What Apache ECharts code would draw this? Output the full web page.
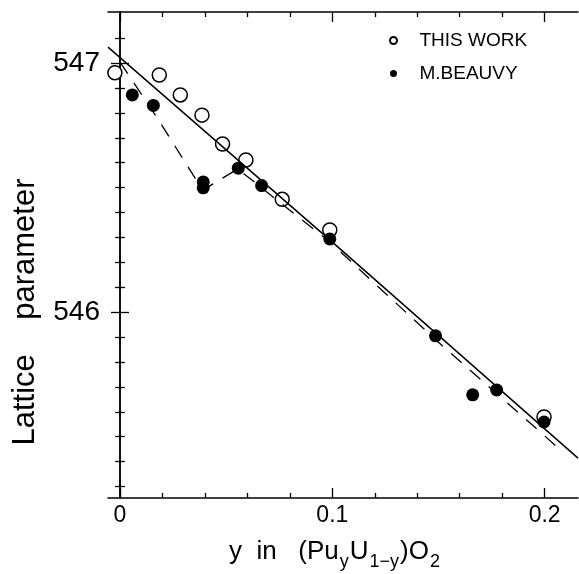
<!DOCTYPE html>
<html>
<head>
<meta charset="utf-8">
<script src="https://cdn.jsdelivr.net/npm/echarts@6/dist/echarts.min.js"></script>
<style>
  html, body { margin: 0; padding: 0; background: #fff; }
  #chart { width: 579px; height: 574px; }
</style>
</head>
<body>
<div id="chart"></div>
<script>
  // values
  const thisWorkX = [-0.0024, 0.0185, 0.0284, 0.0386, 0.0483, 0.0593, 0.0764, 0.0988, 0.1997]
  const thisWorkY = [546.961, 546.952, 546.872, 546.791, 546.675, 546.611, 546.453, 546.330, 545.579]

  const beauvyX = [0.0058, 0.0157, 0.0392, 0.0392, 0.0557, 0.0667, 0.0988, 0.1486, 0.1661, 0.1774, 0.1997]
  const beauvyY = [546.872, 546.830, 546.523, 546.499, 546.578, 546.508, 546.294, 545.905, 545.668, 545.688, 545.559]

  // solid fit line and dashed guide line
  const fitX = [-0.00565, 0.0988, 0.2157]
  const fitY = [547.064, 546.290, 545.414]
  const dashX = [0, 0.0179, 0.0353, 0.0395, 0.0438, 0.0555, 0.0988, 0.1487, 0.2052]
  const dashY = [547.004, 546.775, 546.539, 546.491, 546.515, 546.575, 546.282, 545.889, 545.464]

  // ticks and labels
  const xMinorTicks = [0.02, 0.04, 0.06, 0.08, 0.12, 0.14, 0.16, 0.18]
  const xMajorTicks = [0, 0.1, 0.2]
  const xLabels = [0, 0.1, 0.2]
  const yMinorTicks = [545.3, 545.4, 545.5, 545.6, 545.7, 545.8, 545.9, 546.1, 546.2, 546.3,
    546.4, 546.5, 546.6, 546.7, 546.8, 546.9, 547.1]
  const yMajorTicks = [546, 547]
  const yLabels = [546, 547]

  const xMin = -0.00565, xMax = 0.2157
  const yMin = 545.254, yMax = 547.205

  const ink = '#000'
  const font = 'Liberation Sans'

  const zip = (xs, ys) => xs.map((x, i) => [x, ys[i]])

  function tickAxis(opts) {
    // one axis that only carries a set of inward ticks (and maybe the line / labels)
    return Object.assign({
      type: 'value',
      splitLine: { show: false },
      axisLine: { show: false, lineStyle: { color: ink, width: 1.5 } },
      axisLabel: { show: false },
      axisTick: {
        inside: true,
        length: opts.len,
        customValues: opts.ticks,
        lineStyle: { color: ink, width: 1.3 }
      }
    }, opts.extra)
  }

  const chart = echarts.init(document.getElementById('chart'))
  chart.setOption({
    animation: false,
    backgroundColor: '#fff',
    textStyle: { fontFamily: font, color: ink },
    grid: [
      { left: 108, top: 12, width: 470, height: 486, outerBoundsMode: 'none' },
      { left: 108, top: 12, width: 470, height: 486, outerBoundsMode: 'none' }
    ],
    legend: {
      data: ['THIS WORK', 'M.BEAUVY'],
      orient: 'vertical',
      left: 384,
      top: 26,
      itemWidth: 42,
      itemHeight: 7,
      itemGap: 14,
      selectedMode: false,
      textStyle: { fontSize: 19, color: ink, fontFamily: font }
    },
    xAxis: [
      tickAxis({
        ticks: xMinorTicks, len: 5,
        extra: {
          gridIndex: 0, position: 'bottom', min: xMin, max: xMax,
          axisLine: { show: true, lineStyle: { color: ink, width: 1.5 } },
          axisLabel: {
            show: true, customValues: xLabels, fontSize: 23, margin: 6,
            color: ink, fontFamily: font
          },
          name: '{m|y  in   (Pu}{s|y}{m|U}{s|1−y}{m|)O}{s|2}',
          nameLocation: 'middle',
          nameGap: 41,
          nameMoveOverlap: false,
          nameTextStyle: {
            padding: [0, 16, 0, 0],
            rich: {
              m: { fontSize: 26, verticalAlign: 'top', fontFamily: font, color: ink },
              s: { fontSize: 18, verticalAlign: 'top', padding: [14, 1, 0, 1], fontFamily: font, color: ink }
            }
          }
        }
      }),
      tickAxis({
        ticks: xMinorTicks, len: 5,
        extra: {
          gridIndex: 0, position: 'top', min: xMin, max: xMax,
          axisLine: { show: true, lineStyle: { color: ink, width: 1.5 } }
        }
      }),
      tickAxis({ ticks: xMajorTicks, len: 10, extra: { gridIndex: 1, position: 'bottom', min: xMin, max: xMax } }),
      tickAxis({ ticks: xMajorTicks, len: 10, extra: { gridIndex: 1, position: 'top', min: xMin, max: xMax } })
    ],
    yAxis: [
      tickAxis({
        ticks: yMinorTicks, len: 5,
        extra: {
          gridIndex: 0, position: 'left', min: yMin, max: yMax,
          axisLine: { show: true, lineStyle: { color: ink, width: 1.5 } },
          axisLabel: {
            show: true, customValues: yLabels, fontSize: 28, margin: 8,
            color: ink, fontFamily: font
          },
          name: 'Lattice    parameter',
          nameLocation: 'middle',
          nameGap: 67,
          nameMoveOverlap: false,
          nameTextStyle: { fontSize: 31, color: ink, fontFamily: font, padding: [0, 114, 0, 0] }
        }
      }),
      tickAxis({
        ticks: yMinorTicks, len: 5,
        extra: {
          gridIndex: 0, position: 'right', min: yMin, max: yMax,
          axisLine: { show: true, lineStyle: { color: ink, width: 1.5 } }
        }
      }),
      tickAxis({ ticks: yMajorTicks, len: 9, extra: { gridIndex: 1, position: 'left', min: yMin, max: yMax } }),
      tickAxis({ ticks: yMajorTicks, len: 9, extra: { gridIndex: 1, position: 'right', min: yMin, max: yMax } })
    ],
    series: [
      {
        name: 'fit',
        type: 'line',
        data: zip(fitX, fitY),
        symbol: 'none',
        silent: true,
        clip: true,
        lineStyle: { color: ink, width: 1.5 }
      },
      {
        name: 'guide',
        type: 'line',
        data: zip(dashX, dashY),
        symbol: 'none',
        silent: true,
        clip: true,
        lineStyle: { color: ink, width: 1.3, type: [14, 11] }
      },
      {
        name: 'THIS WORK',
        type: 'scatter',
        data: zip(thisWorkX, thisWorkY),
        symbol: 'circle',
        symbolSize: 14,
        itemStyle: { color: '#fff', borderColor: ink, borderWidth: 1.5, opacity: 1 },
        emphasis: { disabled: true }
      },
      {
        name: 'M.BEAUVY',
        type: 'scatter',
        data: zip(beauvyX, beauvyY),
        symbol: 'circle',
        symbolSize: 13,
        itemStyle: { color: ink, opacity: 1 },
        emphasis: { disabled: true }
      }
    ]
  })
</script>
</body>
</html>
